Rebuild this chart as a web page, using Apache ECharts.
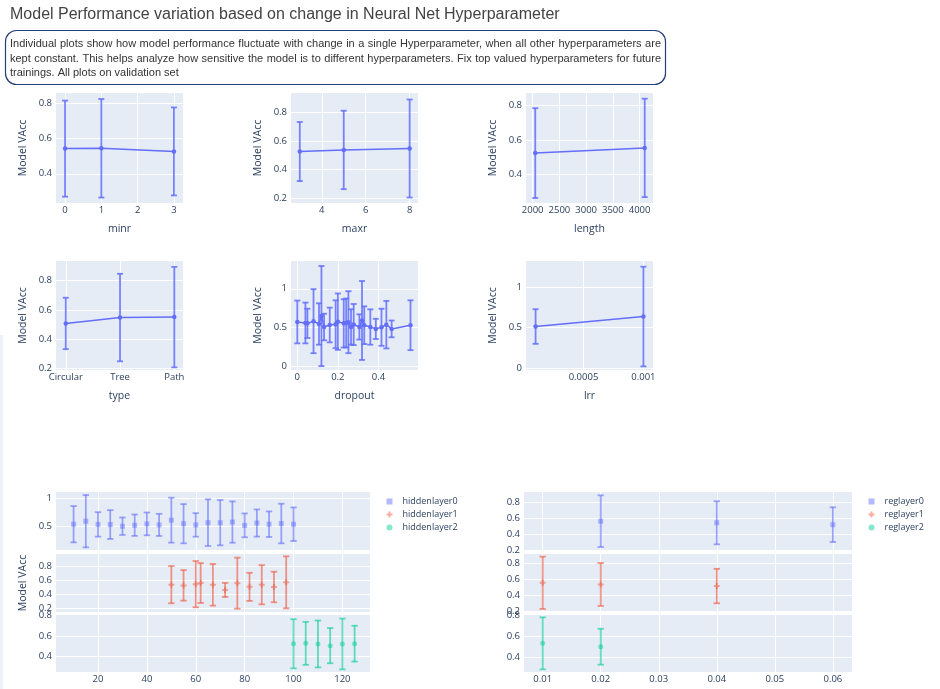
<!DOCTYPE html>
<html><head><meta charset="utf-8">
<script src="https://cdn.jsdelivr.net/npm/echarts@6/dist/echarts.min.js"></script>
<style>html,body{margin:0;padding:0;background:#fff}#c{width:940px;height:689px}</style>
</head><body><div id="c"></div><script>
// ---------------- DATA ----------------
const titleText = 'Model Performance variation based on change in Neural Net Hyperparameter';
const boxLines = [
  'Individual plots show how model performance fluctuate with change in a single Hyperparameter, when all other hyperparameters are',
  'kept constant. This helps analyze how sensitive the model is to different hyperparameters. Fix top valued hyperparameters for future',
  'trainings. All plots on validation set'
];
const yTitle = 'Model VAcc';

const minrX = [0, 1, 3];
const minrMean = [0.543, 0.545, 0.527];
const minrErr = [0.273, 0.28, 0.25];

const maxrX = [3, 5, 8];
const maxrMean = [0.526, 0.537, 0.547];
const maxrErr = [0.205, 0.272, 0.34];

const lengthX = [2048, 4096];
const lengthMean = [0.523, 0.553];
const lengthErr = [0.26, 0.285];

const typeCats = ['Circular', 'Tree', 'Path'];
const typeMean = [0.508, 0.548, 0.551];
const typeErr = [0.175, 0.298, 0.342];

const dropoutX = [0, 0.04, 0.05, 0.08, 0.107, 0.119, 0.132, 0.16, 0.189, 0.2, 0.229, 0.241, 0.252, 0.265, 0.278, 0.306, 0.319, 0.33, 0.36, 0.387, 0.415, 0.439, 0.465, 0.558];
const dropoutMean = [0.574, 0.561, 0.556, 0.584, 0.548, 0.65, 0.509, 0.535, 0.545, 0.578, 0.556, 0.561, 0.571, 0.51, 0.541, 0.51, 0.593, 0.532, 0.509, 0.485, 0.506, 0.539, 0.485, 0.532];
const dropoutErr = [0.275, 0.262, 0.188, 0.411, 0.266, 0.643, 0.171, 0.223, 0.307, 0.362, 0.31, 0.314, 0.398, 0.227, 0.264, 0.162, 0.507, 0.242, 0.227, 0.13, 0.238, 0.305, 0.108, 0.32];

const lrrX = [0.0001, 0.001];
const lrrMean = [0.515, 0.639];
const lrrErr = [0.215, 0.619];

const hidden0X = [10, 15, 20, 25, 30, 35, 40, 45, 50, 55, 60, 65, 70, 75, 80, 85, 90, 95, 100];
const hidden0Mean = [0.541, 0.594, 0.538, 0.535, 0.506, 0.524, 0.547, 0.529, 0.612, 0.55, 0.529, 0.568, 0.568, 0.579, 0.521, 0.562, 0.541, 0.553, 0.541];
const hidden0Err = [0.318, 0.459, 0.215, 0.253, 0.153, 0.188, 0.2, 0.194, 0.394, 0.344, 0.206, 0.409, 0.397, 0.362, 0.209, 0.238, 0.224, 0.347, 0.294];

const hidden1X = [50, 55, 60, 62, 67, 72, 77, 82, 87, 92, 97];
const hidden1Mean = [0.538, 0.528, 0.545, 0.561, 0.536, 0.464, 0.559, 0.507, 0.537, 0.505, 0.571];
const hidden1Err = [0.262, 0.215, 0.326, 0.281, 0.293, 0.099, 0.359, 0.198, 0.276, 0.215, 0.366];

const hidden2X = [100, 105, 110, 115, 120, 125];
const hidden2Mean = [0.524, 0.528, 0.522, 0.506, 0.522, 0.525];
const hidden2Err = [0.236, 0.206, 0.225, 0.169, 0.244, 0.172];

const reg0X = [0.02, 0.04, 0.06];
const reg0Mean = [0.56, 0.54, 0.517];
const reg0Err = [0.323, 0.269, 0.217];

const reg1X = [0.01, 0.02, 0.04];
const reg1Mean = [0.561, 0.54, 0.52];
const reg1Err = [0.328, 0.269, 0.216];

const reg2X = [0.01, 0.02];
const reg2Mean = [0.53, 0.498];
const reg2Err = [0.248, 0.171];

const hiddenNames = ['hiddenlayer0', 'hiddenlayer1', 'hiddenlayer2'];
const regNames = ['reglayer0', 'reglayer1', 'reglayer2'];

// ---------------- STYLE / LAYOUT ----------------
const TXT = '#2a3f5f';
const BG = '#e5ecf6';
const FONT = '"Open Sans", "Liberation Sans", Arial, sans-serif';
const BLUE = '#636efa';
const layerColors = ['rgba(99,110,250,0.6)', 'rgba(239,85,59,0.6)', 'rgba(0,204,150,0.6)'];
const crossPath = 'path://M-1,-3H1V-1H3V1H1V3H-1V1H-3V-1H-1Z';
const layerSymbols = ['rect', crossPath, 'circle'];

const grids = [], xAxes = [], yAxes = [], series = [];

function isMult(v, iv) { const r = v / iv; return Math.abs(r - Math.round(r)) < 1e-6; }
function fmt(v) { return String(parseFloat((+v).toFixed(8))); }

function axis(gi, min, max, iv, extra) {
  const a = {
    type: 'value', gridIndex: gi, min: min, max: max, minInterval: iv, maxInterval: iv,
    axisLine: { show: false }, axisTick: { show: false },
    axisLabel: { fontSize: 9.5, fontFamily: FONT, color: TXT, margin: 4,
      showMinLabel: isMult(min, iv), showMaxLabel: isMult(max, iv), formatter: fmt },
    splitLine: { show: true, lineStyle: { color: '#fff', width: 1 }, showMinLine: false, showMaxLine: false },
    nameTextStyle: { fontSize: 10.5, fontFamily: FONT, color: TXT }
  };
  if (extra) {
    for (const k in extra) {
      if (k === 'axisLabel') Object.assign(a.axisLabel, extra[k]);
      else a[k] = extra[k];
    }
  }
  return a;
}

function errRender(capHalf, lw, color) {
  return function (params, api) {
    const x = api.value(0), m = api.value(1), e = api.value(2);
    const t = api.coord([x, m + e]), b = api.coord([x, m - e]);
    const st = { stroke: color, lineWidth: lw };
    return { type: 'group', children: [
      { type: 'line', shape: { x1: t[0], y1: t[1], x2: b[0], y2: b[1] }, style: st },
      { type: 'line', shape: { x1: t[0] - capHalf, y1: t[1], x2: t[0] + capHalf, y2: t[1] }, style: st },
      { type: 'line', shape: { x1: b[0] - capHalf, y1: b[1], x2: b[0] + capHalf, y2: b[1] }, style: st }
    ] };
  };
}

function addGrid(box) {
  grids.push({ left: box[0], top: box[1], width: box[2], height: box[3], show: true,
    backgroundColor: BG, borderWidth: 0, containLabel: false, outerBoundsMode: 'none' });
  return grids.length - 1;
}

// top panels
function topPanel(box, xr, yr, xs, means, errs, xName, xFmt) {
  const gi = addGrid(box);
  const xa = axis(gi, xr[0], xr[1], xr[2], { name: xName, nameLocation: 'middle', nameGap: 20.5, axisLabel: { margin: 2 } });
  if (xFmt) xa.axisLabel.formatter = xFmt;
  xAxes.push(xa);
  yAxes.push(axis(gi, yr[0], yr[1], yr[2], { name: yTitle, nameLocation: 'middle', nameGap: 27, nameRotate: 90 }));
  const ai = xAxes.length - 1;
  series.push({ type: 'custom', xAxisIndex: ai, yAxisIndex: ai, encode: { x: 0, y: 1 },
    renderItem: errRender(3, 1.8, 'rgba(99,110,250,0.85)'), silent: true,
    data: xs.map((x, i) => [x, means[i], errs[i]]) });
  series.push({ type: 'line', xAxisIndex: ai, yAxisIndex: ai, symbol: 'circle', symbolSize: 4.5,
    lineStyle: { color: BLUE, width: 1.5 }, itemStyle: { color: BLUE }, silent: true, animation: false,
    data: xs.map((x, i) => [x, means[i]]) });
}

topPanel([56, 93, 127, 110], [-0.25, 3.25, 1], [0.234, 0.859, 0.2], minrX, minrMean, minrErr, 'minr');
topPanel([291, 93, 127, 110], [2.6, 8.38, 2], [0.169, 0.932, 0.2], maxrX, maxrMean, maxrErr, 'maxr');
topPanel([526, 93, 127, 110], [1875, 4251, 500], [0.234, 0.871, 0.2], lengthX, lengthMean, lengthErr, 'length');
topPanel([56, 261, 127, 109], [-0.18, 2.16, 1], [0.191, 0.933, 0.2], typeCats.map((c, i) => i), typeMean, typeErr, 'type',
  v => (typeCats[Math.round(v)] !== undefined && isMult(v, 1)) ? typeCats[Math.round(v)] : '');
topPanel([291, 261, 127, 109], [-0.031, 0.595, 0.2], [-0.043, 1.357, 0.5], dropoutX, dropoutMean, dropoutErr, 'dropout');
topPanel([526, 261, 127, 109], [0.00002, 0.00108, 0.0005], [-0.025, 1.329, 0.5], lrrX, lrrMean, lrrErr, 'lrr');

// bottom stacked panels
const stackTops = [492, 554, 615];
const stackH = [58, 58, 57];
function stacked(left, width, xr, yrs, sets, names, withTitle) {
  sets.forEach((s, k) => {
    const gi = addGrid([left, stackTops[k], width, stackH[k]]);
    const xa = axis(gi, xr[0], xr[1], xr[2], { axisLabel: { margin: 2 } });
    if (k < 2) xa.axisLabel.show = false;
    xAxes.push(xa);
    const ya = axis(gi, yrs[k][0], yrs[k][1], yrs[k][2]);
    if (withTitle && k === 1) { ya.name = yTitle; ya.nameLocation = 'middle'; ya.nameGap = 27; ya.nameRotate = 90; }
    yAxes.push(ya);
    const ai = xAxes.length - 1;
    series.push({ type: 'custom', xAxisIndex: ai, yAxisIndex: ai, encode: { x: 0, y: 1 }, silent: true,
      renderItem: errRender(3.2, 1.8, layerColors[k]),
      data: s[0].map((x, i) => [x, s[1][i], s[2][i]]) });
    series.push({ type: 'scatter', name: names[k], xAxisIndex: ai, yAxisIndex: ai,
      symbol: layerSymbols[k], symbolSize: k === 1 ? 6 : 5, itemStyle: { color: layerColors[k] }, silent: true,
      data: s[0].map((x, i) => [x, s[1][i]]) });
  });
}
stacked(56, 314, [2.8, 131.3, 20], [[0.089, 1.106, 0.5], [0.153, 0.97, 0.2], [0.253, 0.8, 0.2]],
  [[hidden0X, hidden0Mean, hidden0Err], [hidden1X, hidden1Mean, hidden1Err], [hidden2X, hidden2Mean, hidden2Err]], hiddenNames, true);
stacked(524, 328, [0.00678, 0.0633, 0.01], [[0.2, 0.925, 0.2], [0.195, 0.922, 0.2], [0.257, 0.8, 0.2]],
  [[reg0X, reg0Mean, reg0Err], [reg1X, reg1Mean, reg1Err], [reg2X, reg2Mean, reg2Err]], regNames, false);

function legendFor(names, left) {
  return { left: left, top: 496, orient: 'vertical', padding: 0, itemWidth: 6, itemHeight: 6, itemGap: 2,
    selectedMode: false,
    textStyle: { fontSize: 9, fontFamily: FONT, color: TXT, lineHeight: 11, padding: [0, 0, 0, 5] },
    data: names.map((n, k) => ({ name: n, icon: layerSymbols[k], itemStyle: { color: layerColors[k] } })) };
}

// ---------------- TEXT BOX (justified) ----------------
const boxFont = '11px "Liberation Sans", Arial, sans-serif';
const boxLeft = 10, boxRight = 661;
const lineY = [44, 58.5, 73];
const graphics = [];
graphics.push({ type: 'rect', shape: { x: 5.5, y: 30.5, width: 660, height: 54, r: 11 },
  style: { fill: '#fff', stroke: '#243e78', lineWidth: 1.2 } });
graphics.push({ type: 'rect', shape: { x: 0, y: 335, width: 3, height: 354 }, style: { fill: '#eef1f5' }, silent: true });
graphics.push({ type: 'text', x: 10, y: 14.5,
  style: { text: titleText, font: '16px "Liberation Sans", Arial, sans-serif', fill: '#444',
    textVerticalAlign: 'middle', verticalAlign: 'middle', textAlign: 'left', align: 'left' } });
const mctx = document.createElement('canvas').getContext('2d');
mctx.font = boxFont;
boxLines.forEach((line, li) => {
  const justify = li < boxLines.length - 1;
  const words = line.split(' ');
  const widths = words.map(w => mctx.measureText(w).width);
  const total = widths.reduce((a, b) => a + b, 0);
  const gap = justify ? (boxRight - boxLeft - total) / (words.length - 1) : mctx.measureText(' ').width;
  let cx = boxLeft;
  words.forEach((w, i) => {
    graphics.push({ type: 'text', x: cx, y: lineY[li],
      style: { text: w, font: boxFont, fill: '#333', textVerticalAlign: 'middle', verticalAlign: 'middle', textAlign: 'left', align: 'left' } });
    cx += widths[i] + gap;
  });
});

const chart = echarts.init(document.getElementById('c'), null, { renderer: 'canvas' });
chart.setOption({
  backgroundColor: '#fff',
  animation: false,
  grid: grids,
  xAxis: xAxes,
  yAxis: yAxes,
  legend: [legendFor(hiddenNames, 386.5), legendFor(regNames, 868.5)],
  graphic: graphics,
  series: series
});
</script></body></html>
